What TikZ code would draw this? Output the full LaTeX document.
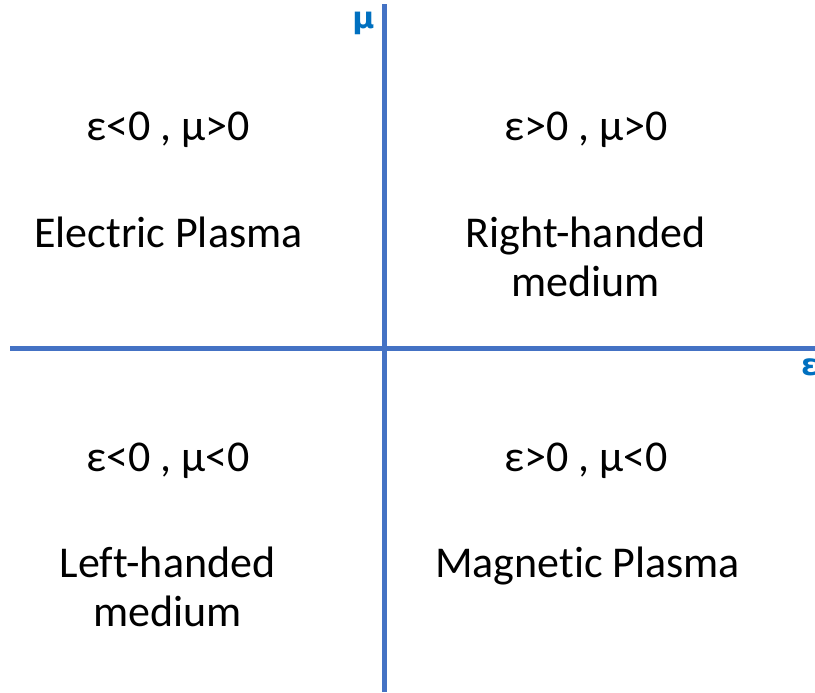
\documentclass[tikz,border=0pt]{standalone}
\usepackage{fontspec}
\setmainfont{Carlito}[Ligatures=NoCommon]
\newfontfamily\axisfont{DejaVu Sans}
\usepackage{xcolor}
\usetikzlibrary{positioning}
\definecolor{axisblue}{HTML}{4472C4}
\definecolor{labelblue}{HTML}{0070C0}

\begin{document}
\begin{tikzpicture}[
  x=1pt, y=-1pt,
  axis/.style={draw=axisblue, line width=5.5pt},
  axislabel/.style={anchor=base, inner sep=0pt, text=labelblue, font=\axisfont\fontsize{30}{36}\selectfont\bfseries},
  region/.style={anchor=base, inner sep=0pt, align=center, font=\fontsize{44}{49}\selectfont}
]
\useasboundingbox (0,0) rectangle (815,693);
\clip (0,0) rectangle (815,693);

% axes
\coordinate (mutop) at (384.5,4);
\coordinate (mubot) at (384.5,691.5);
\coordinate (epsleft) at (10,348.3);
\coordinate (epsright) at (815,348.3);
\draw[axis] (mubot) -- (mutop);
\draw[axis] (epsleft) -- (epsright);

\node[axislabel] (mulabel) at (363.5,28.5) {μ};
\node[axislabel, anchor=base west] (epslabel) at (801,375) {ε};

% quadrants
\node[region] (signUL) at (168,141) {ε<0 , μ>0};
\node[region] (signUR) at (586,141) {ε>0 , μ>0};
\node[region] (signLL) at (168,471) {ε<0 , μ<0};
\node[region] (signLR) at (586,471) {ε>0 , μ<0};

% last line sits on the base anchor
\node[region] (electric) at (168.5,247) {Electric Plasma};
\node[region] (righthanded) at (585.5,296) {Right-handed\\medium};
\node[region] (lefthanded) at (167.5,626) {Left-handed\\medium};
\node[region] (magnetic) at (587.5,577) {Magnetic Plasma};
\end{tikzpicture}
\end{document}
